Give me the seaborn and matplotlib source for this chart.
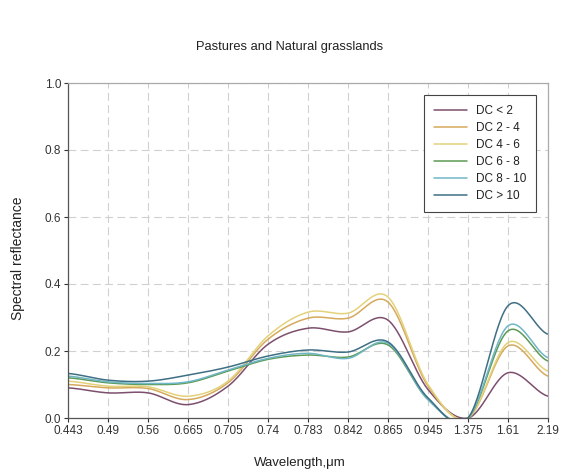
import numpy as np
import pandas as pd
import matplotlib
matplotlib.use("Agg")
import matplotlib.pyplot as plt
import seaborn as sns

wavelengths = ['0.443', '0.49', '0.56', '0.665', '0.705', '0.74', '0.783',
               '0.842', '0.865', '0.945', '1.375', '1.61', '2.19']
series_names = ['DC < 2', 'DC 2 - 4', 'DC 4 - 6', 'DC 6 - 8', 'DC 8 - 10', 'DC > 10']
dc_lt2  = [0.090, 0.075, 0.075, 0.040, 0.095, 0.220, 0.268, 0.257, 0.292, 0.085, 0.0, 0.135, 0.065]
dc_2_4  = [0.100, 0.090, 0.088, 0.055, 0.105, 0.235, 0.298, 0.298, 0.346, 0.095, 0.0, 0.215, 0.125]
dc_4_6  = [0.110, 0.095, 0.093, 0.065, 0.110, 0.245, 0.316, 0.313, 0.361, 0.100, 0.0, 0.225, 0.140]
dc_6_8  = [0.120, 0.105, 0.100, 0.105, 0.140, 0.175, 0.188, 0.182, 0.218, 0.055, 0.0, 0.260, 0.170]
dc_8_10 = [0.125, 0.108, 0.103, 0.108, 0.143, 0.178, 0.193, 0.178, 0.223, 0.055, 0.0, 0.275, 0.180]
dc_gt10 = [0.133, 0.113, 0.110, 0.128, 0.152, 0.185, 0.203, 0.197, 0.227, 0.060, 0.0, 0.335, 0.250]
series_values = [dc_lt2, dc_2_4, dc_4_6, dc_6_8, dc_8_10, dc_gt10]
colors = ['#7d4f6e', '#d6a95c', '#e3d27a', '#5c9a55', '#6fb6c6', '#3f6f84']


def smooth(y, n=30):
    """Catmull-Rom rendering of a line through the points (Excel-like smoothing)."""
    y = np.asarray(y, float)
    x = np.arange(len(y), dtype=float)
    xs, ys = [], []
    for i in range(len(y) - 1):
        p0 = y[i - 1] if i > 0 else y[i]
        p1, p2 = y[i], y[i + 1]
        p3 = y[i + 2] if i + 2 < len(y) else y[i + 1]
        t = np.linspace(0, 1, n, endpoint=False)
        yy = 0.5 * ((2 * p1) + (-p0 + p2) * t + (2 * p0 - 5 * p1 + 4 * p2 - p3) * t ** 2
                    + (-p0 + 3 * p1 - 3 * p2 + p3) * t ** 3)
        xs.append(x[i] + t)
        ys.append(yy)
    xs.append([x[-1]])
    ys.append([y[-1]])
    return np.concatenate(xs), np.concatenate(ys)


rows = []
for name, vals in zip(series_names, series_values):
    xs, ys = smooth(vals)
    rows.append(pd.DataFrame({'x': xs, 'y': ys, 'series': name}))
df = pd.concat(rows, ignore_index=True)

sns.set_style('white')
plt.rcParams['font.family'] = ['Liberation Sans', 'DejaVu Sans']

fig = plt.figure(figsize=(5.65, 4.73), dpi=100)
ax = fig.add_axes([68 / 565, 1 - 418 / 473, 480 / 565, 335 / 473])

sns.lineplot(data=df, x='x', y='y', hue='series', hue_order=series_names,
             palette=colors, sort=False, estimator=None, linewidth=1.1, ax=ax)

ax.set_xlim(0, len(wavelengths) - 1)
ax.set_ylim(0, 1.0)
ax.set_xticks(range(len(wavelengths)))
ax.set_xticklabels(wavelengths)
ax.set_yticks([0.0, 0.2, 0.4, 0.6, 0.8, 1.0])
ax.set_yticklabels(['0.0', '0.2', '0.4', '0.6', '0.8', '1.0'])
ax.tick_params(axis='both', labelsize=8.5, colors='#333333', length=3, width=0.8,
               direction='out', bottom=True, left=True, pad=2)
ax.grid(True, color='#d0d0d0', linestyle=(0, (7, 4)), linewidth=0.8)
for side in ['left', 'bottom']:
    ax.spines[side].set_color('#555555')
    ax.spines[side].set_linewidth(0.9)
for side in ['top', 'right']:
    ax.spines[side].set_color('#aaaaaa')
    ax.spines[side].set_linewidth(0.9)

ax.set_xlabel('')
ax.set_ylabel('')
fig.text(300 / 565, 1 - 463 / 473, 'Wavelength,\u03bcm', ha='center', va='center',
         fontsize=9.5, color='#222222')
fig.text(18 / 565, 1 - 258 / 473, 'Spectral reflectance', ha='center', va='center',
         rotation=90, fontsize=10, color='#222222')
fig.text(290 / 565, 1 - 47 / 473, 'Pastures and Natural grasslands', ha='center',
         va='center', fontsize=9.3, color='#222222')

leg = ax.legend(loc='upper right', bbox_to_anchor=((536 - 68) / 480, 1 - (95 - 83) / 335),
                fontsize=8.5, frameon=True, fancybox=False,
                handlelength=2.8, labelspacing=0.42, borderpad=0.85, handletextpad=0.7,
                borderaxespad=0)
leg.get_frame().set_edgecolor('#444444')
leg.get_frame().set_linewidth(0.8)
leg.get_frame().set_alpha(1)
for t in leg.get_texts():
    t.set_color('#222222')

fig.savefig('out.png', dpi=100)
